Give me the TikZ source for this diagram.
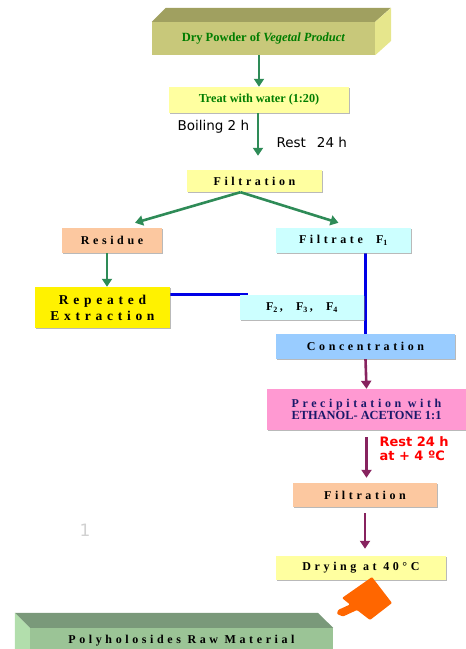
\documentclass[tikz,border=0pt]{standalone}
\usepackage{fontspec}
\setmainfont{Liberation Serif}
\newfontfamily\spacedfont[LetterSpace=30]{Liberation Serif}
\newfontfamily\widefont[LetterSpace=35]{Liberation Serif}
\newfontfamily\notefont{DejaVu Sans}
\usetikzlibrary{arrows.meta,shadows,backgrounds}

\definecolor{olivefront}{RGB}{200,200,122}
\definecolor{olivetop}{RGB}{160,160,96}
\definecolor{oliveside}{RGB}{230,230,140}
\definecolor{sagefront}{RGB}{155,196,150}
\definecolor{sagetop}{RGB}{122,153,122}
\definecolor{sageside}{RGB}{178,222,172}
\definecolor{paleyellow}{RGB}{255,255,160}
\definecolor{peach}{RGB}{252,200,160}
\definecolor{paleaqua}{RGB}{204,255,255}
\definecolor{skyblue}{RGB}{153,204,255}
\definecolor{pinkbox}{RGB}{255,153,210}
\definecolor{stepgreen}{RGB}{46,139,87}
\definecolor{steppurple}{RGB}{135,35,95}
\definecolor{mixblue}{RGB}{0,0,230}
\definecolor{darkgreen}{RGB}{0,125,0}
\definecolor{navytext}{RGB}{25,25,105}
\definecolor{blockorange}{RGB}{255,102,0}

\begin{document}
\begin{tikzpicture}[x=1pt,y=-1pt,
      box/.style={inner sep=0pt,minimum height=25pt,
        drop shadow={shadow xshift=1pt,shadow yshift=-1pt,opacity=0.55}},
      stext/.style={font=\spacedfont\bfseries\fontsize{12}{14}\selectfont},
      gtext/.style={font=\bfseries\fontsize{12.5}{14}\selectfont,text=darkgreen},
      note/.style={font=\notefont\fontsize{13.5}{16}\selectfont,anchor=west},
      garrow/.style={line width=2.6pt,stepgreen,-{Triangle[width=10pt,length=8pt]}},
      parrow/.style={line width=2.6pt,steppurple,-{Triangle[width=10pt,length=8pt]}},
      bline/.style={line width=2.8pt,mixblue},
      ]
      \useasboundingbox (0,0) rectangle (466,649);

      % solid block on top
      \node[fill=olivefront,minimum width=223pt,minimum height=33pt,inner sep=0pt,gtext]
        (powder) at (263.5,38.5) {Dry Powder of \textit{Vegetal Product}};
      \fill[olivetop] (powder.north west) -- ++(14,-14) -- ++(225,0) -- (powder.north east) -- cycle;
      \fill[oliveside] (powder.north east) -- ++(16,-14) -- ++(0,33) -- (powder.south east) -- cycle;

      \node[box,fill=paleyellow,minimum width=180pt,minimum height=26pt,
        font=\bfseries\fontsize{12.2}{14}\selectfont,text=darkgreen]
        (treat) at (259,100) {Treat with water (1:20)};
      \node[note] (boil) at (174,127) {Boiling 2 h};
      \node[note] (rest) at (273,142) {Rest\hspace{11pt}24 h};

      \node[box,fill=paleyellow,minimum width=135pt,minimum height=22pt,stext]
        (filt) at (254.5,181) {Filtration};
      \node[box,fill=peach,minimum width=100pt,stext] (residue) at (112,240.5) {Residue};
      \node[box,fill=paleaqua,minimum width=135pt,stext]
        (filtrate) at (343.5,240.5) {Filtrate\ \ F\textsubscript{1}};

      \node[box,fill=yellow,minimum width=135pt,minimum height=41pt,align=center,
        font=\widefont\bfseries\fontsize{13.5}{16}\selectfont]
        (repeat) at (102.5,307.5) {Repeated\\Extraction};
      \node[box,fill=paleaqua,minimum width=124pt,stext]
        (fracs) at (302,307.5) {F\textsubscript{2}\,,\ \ F\textsubscript{3}\,,\ \ F\textsubscript{4}};
      \node[box,fill=skyblue,minimum width=179pt,stext] (conc) at (365.5,346.5) {Concentration};

      \node[box,fill=pinkbox,minimum width=199pt,minimum height=41pt,align=center,text=navytext]
        (precip) at (366.5,409.5)
        {{\spacedfont\bfseries\fontsize{12}{14}\selectfont Precipitation with}\\
         {\bfseries\fontsize{12.4}{14}\selectfont ETHANOL- ACETONE 1:1}};
      \node[anchor=north west,align=left,text=red,
        font=\notefont\bfseries\fontsize{13}{14}\selectfont]
        (cold) at (376,433) {Rest 24 h\\at + 4 ºC};

      \node[box,fill=peach,minimum width=144pt,minimum height=24pt,stext]
        (filt2) at (365,495) {Filtration};
      \node[box,fill=paleyellow,minimum width=170pt,minimum height=24pt,stext]
        (dry) at (361,568) {Drying at 40°C};

      \node[text=black!18,font=\notefont\fontsize{17}{17}\selectfont] (mark) at (85,530) {1};

      % orange block pointing to the product
      \fill[blockorange,rounded corners=1pt] (372,577) -- (392,603) -- (370,620) -- (357,610)
        -- (343,616.5) -- (337,614) -- (338,610) -- (350,604.5) -- (342,598) -- cycle;

      % solid block at the bottom
      \node[fill=sagefront,minimum width=303pt,minimum height=26pt,inner sep=0pt,stext]
        (raw) at (181.5,641) {Polyholosides Raw Material};
      \fill[sagetop] (raw.north west) -- ++(-15,-15) -- ++(303,0) -- (raw.north east) -- cycle;
      \fill[sageside] (raw.north west) -- ++(-15,-15) -- ++(0,40) -- (raw.south west) -- cycle;

      \draw[garrow] (powder.south -| treat.north) -- (treat.north);
      \draw[garrow,shorten >=14pt] ([xshift=-1pt]treat.south) -- ([xshift=-1pt]treat.south |- filt.north);
      \draw[garrow] ([xshift=-14pt]filt.south) -- ([xshift=23pt,yshift=5pt]residue.north);
      \draw[garrow] ([xshift=-14pt]filt.south) -- ([xshift=-5pt,yshift=5pt]filtrate.north);
      \draw[garrow] ([xshift=-5pt]residue.south) -- ([xshift=-5pt]residue.south |- repeat.north);

      \begin{scope}[on background layer]
        \draw[bline] ([yshift=-8pt]repeat.north east) -- ([xshift=8pt]fracs.north west);
        \draw[bline] (conc.north) -- (conc.north |- filtrate.south);
      \end{scope}

      \draw[parrow] (conc.south) -- (precip.north);
      \draw[parrow,shorten <=7pt,shorten >=5pt] (precip.south) -- (precip.south |- filt2.north);
      \draw[parrow,shorten <=6pt,shorten >=7pt] (filt2.south) -- (filt2.south |- dry.north);
    \end{tikzpicture}
\end{document}
